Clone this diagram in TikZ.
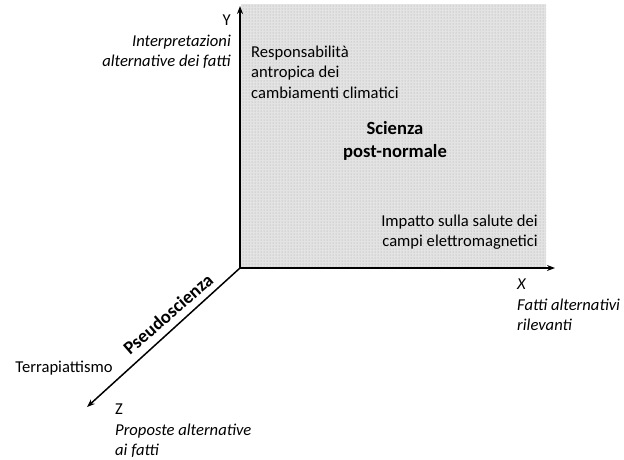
\documentclass[tikz,border=0pt]{standalone}
\usepackage{fontspec}
\setmainfont{Carlito}
\usetikzlibrary{arrows.meta,patterns}
\begin{document}
\begin{tikzpicture}[x=1pt,y=-1pt,
   axis/.style={line width=1.5pt,-{Stealth[length=8pt,width=6pt]}},
   txt/.style={font=\fontsize{16.6}{20.5}\selectfont, inner sep=0pt},
   bigtxt/.style={txt, font=\fontsize{18.6}{23}\selectfont\bfseries}]
   \useasboundingbox (0,0) rectangle (624,459);

   % shaded region
   \fill[gray!22] (241,4) rectangle (546,268);
   \fill[pattern=dots, pattern color=gray!70] (241,4) rectangle (546,268);

   % axes
   \coordinate (O) at (240,268);
   \coordinate (Yend) at (240,6);
   \coordinate (Xend) at (555,268);
   \coordinate (Zend) at (87,407);
   \draw[axis] (O) -- (Yend);
   \draw[axis] (O) -- (Xend);
   \draw[axis] (O) -- (Zend);

   % axis labels
   \node[txt, align=right, anchor=east] (ylab) at (231,42)
        {Y\\\textit{Interpretazioni}\\\textit{alternative dei fatti}};
   \node[txt, align=left, anchor=west] (xlab) at (517,305)
        {\textit{X}\\\textit{Fatti alternativi}\\\textit{rilevanti}};
   \node[txt, align=left, anchor=west] (zlab) at (115,431)
        {Z\\\textit{Proposte alternative}\\\textit{ai fatti}};

   % examples
   \node[txt, align=left, anchor=west] (clima) at (251,72)
        {Responsabilità\\antropica dei\\cambiamenti climatici};
   \node[bigtxt, align=center] (pns) at (395,141) {Scienza\\post-normale};
   \node[txt, align=right, anchor=east] (emf) at (538,232)
        {Impatto sulla salute dei\\campi elettromagnetici};
   \node[txt] (terra) at (64,368) {Terrapiattismo};
   \node[bigtxt, rotate=41] (pseudo) at (168,314) {Pseudoscienza};
\end{tikzpicture}
\end{document}
